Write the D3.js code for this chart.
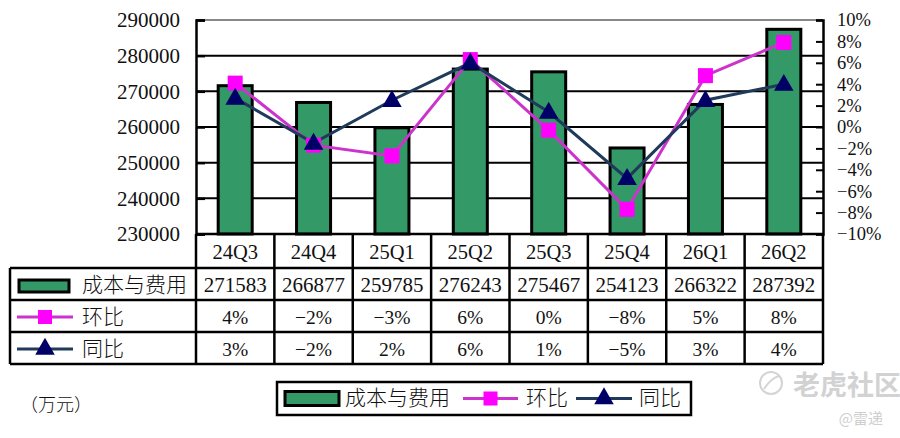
<!DOCTYPE html>
<html><head><meta charset="utf-8">
<script src="https://cdn.jsdelivr.net/npm/d3@7"></script>
<style>
html,body{margin:0;padding:0;background:#fff;}
svg{display:block;}
text{font-family:"Liberation Serif","Noto Sans CJK SC",serif;fill:#111;}
.cjk{font-weight:300;}
</style></head>
<body><svg id="c" width="900" height="438"></svg>
<script>
const categories = ["24Q3","24Q4","25Q1","25Q2","25Q3","25Q4","26Q1","26Q2"];
const costValues = [271583,266877,259785,276243,275467,254123,266322,287392];
const qoqValues = [4.1,-1.7,-2.7,6.3,-0.3,-7.7,4.8,7.9];
const yoyValues = [2.7,-1.5,2.5,6.0,1.4,-4.8,2.5,4.0];
const qoqLabels = ["4%","−2%","−3%","6%","0%","−8%","5%","8%"];
const yoyLabels = ["3%","−2%","2%","6%","1%","−5%","3%","4%"];
const leftTicks = [230000,240000,250000,260000,270000,280000,290000];
const rightTicks = [-10,-8,-6,-4,-2,0,2,4,6,8,10];
const seriesNames = ["成本与费用","环比","同比"];
const unitLabel = "（万元）";

const GREEN = "#339966", MAG = "#FF00FF", MAGLINE = "#CC33CC", NAVY = "#000066", NAVYLINE = "#1F3A5A";

const svg = d3.select("#c");
const L = 196, R = 823, T = 20, B = 234;
const x = d3.scaleBand().domain(categories).range([L, R]).padding(0);
const y = d3.scaleLinear().domain([230000, 290000]).range([B, T]);
const y2 = d3.scaleLinear().domain([-10, 10]).range([B, T]);
const barFrac = 0.434;

// gridlines
svg.append("g").selectAll("line").data(leftTicks.filter(v => v > 230000 && v < 290000)).join("line")
  .attr("x1", L).attr("x2", R).attr("y1", d => y(d)).attr("y2", d => y(d))
  .attr("stroke", "#000").attr("stroke-width", 2);
svg.append("line").attr("x1", L).attr("x2", R).attr("y1", y(290000)).attr("y2", y(290000))
  .attr("stroke", "#888").attr("stroke-width", 2);

// left axis
const ga = svg.append("g").attr("transform", `translate(${L},0)`)
  .call(d3.axisLeft(y).tickValues(leftTicks).tickSize(-9).tickPadding(16).tickFormat(d3.format("d")));
ga.select(".domain").attr("stroke", "#000").attr("stroke-width", 2.5);
ga.selectAll(".tick line").attr("stroke", "#000").attr("stroke-width", 2.5);
ga.selectAll("text").attr("font-size", 21).attr("fill", "#111")
  .style("font-family", '"Liberation Serif",serif');

// right axis
const gr = svg.append("g").attr("transform", `translate(${R},0)`)
  .call(d3.axisRight(y2).tickValues(rightTicks).tickSize(-7).tickPadding(14)
    .tickFormat(d => (d < 0 ? "−" + (-d) : d) + "%"));
gr.select(".domain").attr("stroke", "#000").attr("stroke-width", 2.5);
gr.selectAll(".tick line").attr("stroke", "#000").attr("stroke-width", 2);
gr.selectAll("text").attr("font-size", 18.5).attr("fill", "#111")
  .style("font-family", '"Liberation Serif",serif');

// bars
svg.append("g").selectAll("rect").data(categories).join("rect")
  .attr("x", (d) => x(d) + x.bandwidth() * (1 - barFrac) / 2)
  .attr("width", x.bandwidth() * barFrac)
  .attr("y", (d, i) => y(costValues[i]))
  .attr("height", (d, i) => B - y(costValues[i]))
  .attr("fill", GREEN).attr("stroke", "#000").attr("stroke-width", 3);

const cx = d => x(d) + x.bandwidth() / 2;
// qoq line
svg.append("path").datum(categories)
  .attr("d", d3.line().x(cx).y((d, i) => y2(qoqValues[i])))
  .attr("fill", "none").attr("stroke", MAGLINE).attr("stroke-width", 3);
// yoy line
svg.append("path").datum(categories)
  .attr("d", d3.line().x(cx).y((d, i) => y2(yoyValues[i])))
  .attr("fill", "none").attr("stroke", NAVYLINE).attr("stroke-width", 3);

const sq = 15;
svg.append("g").selectAll("rect").data(categories).join("rect")
  .attr("x", d => cx(d) - sq / 2).attr("y", (d, i) => y2(qoqValues[i]) - sq / 2)
  .attr("width", sq).attr("height", sq).attr("fill", MAG);
const tri = d3.symbol().type(d3.symbolTriangle).size(165);
svg.append("g").selectAll("path").data(categories).join("path")
  .attr("d", tri).attr("transform", (d, i) => `translate(${cx(d)},${y2(yoyValues[i]) + 1})`)
  .attr("fill", NAVY);

// data table
const rowY = [234, 268, 300, 332, 364];
const tableLeft = 10;
const tg = svg.append("g");
tg.append("line").attr("x1", L).attr("x2", R).attr("y1", rowY[0]).attr("y2", rowY[0]).attr("stroke", "#000").attr("stroke-width", 2.5);
rowY.slice(1).forEach(yy => tg.append("line").attr("x1", tableLeft).attr("x2", R).attr("y1", yy).attr("y2", yy).attr("stroke", "#000").attr("stroke-width", 2.5));
categories.concat(["_end"]).forEach((c, i) => {
  const xx = L + i * x.step();
  tg.append("line").attr("x1", xx).attr("x2", xx).attr("y1", rowY[0]).attr("y2", rowY[4]).attr("stroke", "#000").attr("stroke-width", 2.5);
});
tg.append("line").attr("x1", tableLeft).attr("x2", tableLeft).attr("y1", rowY[1]).attr("y2", rowY[4]).attr("stroke", "#000").attr("stroke-width", 2.5);

const txt = (g, t, xx, yy, size, anchor) => g.append("text").attr("x", xx).attr("y", yy)
  .attr("font-size", size).attr("text-anchor", anchor || "middle").attr("dominant-baseline", "central").text(t);

categories.forEach((c, i) => {
  txt(tg, c, cx(c), 252, 20.5);
  txt(tg, costValues[i], cx(c), 285, 21);
  txt(tg, qoqLabels[i], cx(c), 317, 19.5);
  txt(tg, yoyLabels[i], cx(c), 349, 19.5);
});

// legend keys in table
function keyBar(g, x0, yc, w, h) {
  g.append("rect").attr("x", x0).attr("y", yc - h / 2).attr("width", w).attr("height", h)
    .attr("fill", GREEN).attr("stroke", "#000").attr("stroke-width", 3);
}
function keyQoq(g, x0, yc, w) {
  g.append("line").attr("x1", x0).attr("x2", x0 + w).attr("y1", yc).attr("y2", yc).attr("stroke", MAGLINE).attr("stroke-width", 3);
  g.append("rect").attr("x", x0 + w / 2 - 7).attr("y", yc - 7).attr("width", 14).attr("height", 14).attr("fill", MAG);
}
function keyYoy(g, x0, yc, w) {
  g.append("line").attr("x1", x0).attr("x2", x0 + w).attr("y1", yc).attr("y2", yc).attr("stroke", NAVYLINE).attr("stroke-width", 3);
  g.append("path").attr("d", tri).attr("transform", `translate(${x0 + w / 2},${yc})`).attr("fill", NAVY);
}
keyBar(tg, 19, 286, 50, 12);
keyQoq(tg, 17, 317, 56);
keyYoy(tg, 17, 349, 56);
txt(tg, seriesNames[0], 82, 285, 21, "start").attr("class", "cjk");
txt(tg, seriesNames[1], 82, 317, 21, "start").attr("class", "cjk");
txt(tg, seriesNames[2], 82, 349, 21, "start").attr("class", "cjk");

// unit
txt(svg, unitLabel, 20, 405, 18, "start").attr("class", "cjk");

// bottom legend
const lg = svg.append("g");
lg.append("rect").attr("x", 277).attr("y", 382).attr("width", 414).attr("height", 33)
  .attr("fill", "#fff").attr("stroke", "#000").attr("stroke-width", 2.5);
keyBar(lg, 285, 398.5, 54, 14);
txt(lg, seriesNames[0], 345, 398, 21, "start").attr("class", "cjk");
keyQoq(lg, 463, 398.5, 55);
txt(lg, seriesNames[1], 526, 398, 21, "start").attr("class", "cjk");
keyYoy(lg, 576, 398.5, 56);
txt(lg, seriesNames[2], 639, 398, 21, "start").attr("class", "cjk");

// watermark
const wm = svg.append("g");
wm.append("circle").attr("cx", 771).attr("cy", 383).attr("r", 11).attr("fill", "none").attr("stroke", "#d4d4d4").attr("stroke-width", 2);
wm.append("path").attr("d", "M764,389 Q771,378 779,376").attr("fill", "none").attr("stroke", "#d4d4d4").attr("stroke-width", 2);
wm.append("text").attr("x", 793).attr("y", 383).attr("dominant-baseline", "central").attr("font-size", 27)
  .style("font-family", '"Noto Sans CJK SC",sans-serif').style("fill", "#d2d2d2").attr("font-weight", "bold").text("老虎社区");
wm.append("text").attr("x", 883).attr("y", 417).attr("text-anchor", "end").attr("dominant-baseline", "central").attr("font-size", 15)
  .style("font-family", '"Noto Sans CJK SC",sans-serif').style("fill", "#cfcfcf").text("@雷递");
</script></body></html>
